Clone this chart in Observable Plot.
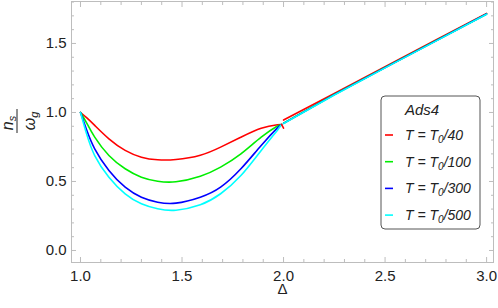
<!DOCTYPE html>
<html><head><meta charset="utf-8">
<script src="https://cdn.jsdelivr.net/npm/d3@7"></script>
<script src="https://cdn.jsdelivr.net/npm/@observablehq/plot@0.6"></script>
<style>body{margin:0;background:#fff}</style>
</head><body><div id="chart"></div>
<script>
// ---- data ----
const seriesKeys = ["T0/40", "T0/100", "T0/300", "T0/500"];
const seriesDenoms = ["40", "100", "300", "500"];
const seriesColors = ["#ff0000", "#00ee00", "#0000ff", "#00ffff"];

const deltaLow = [1.0, 1.03, 1.07, 1.14, 1.22, 1.30, 1.38, 1.47, 1.59, 1.69, 1.79, 1.89, 1.97, 1.99];
const redLow   = [1.0, 0.962, 0.906, 0.809, 0.725, 0.676, 0.657, 0.659, 0.690, 0.749, 0.821, 0.886, 0.911, 0.913];
const greenLow = [1.0, 0.925, 0.821, 0.688, 0.592, 0.531, 0.502, 0.498, 0.538, 0.604, 0.700, 0.821, 0.902, 0.913];
const blueLow  = [1.0, 0.875, 0.737, 0.580, 0.459, 0.386, 0.350, 0.343, 0.386, 0.459, 0.592, 0.761, 0.888, 0.913];
const cyanLow  = [1.0, 0.845, 0.688, 0.531, 0.411, 0.338, 0.302, 0.292, 0.331, 0.411, 0.543, 0.725, 0.872, 0.913];

const deltaHook = [1.99, 2.0];
const redHook   = [0.913, 0.886];

const deltaHigh = [2.0, 2.25, 2.5, 2.75, 3.0];
const redHigh   = [0.945, 1.138, 1.331, 1.525, 1.718];
const greenHigh = [0.922, 1.130, 1.326, 1.520, 1.714];
const blueHigh  = [0.921, 1.129, 1.325, 1.519, 1.713];
const cyanHigh  = [0.920, 1.127, 1.323, 1.517, 1.712];

const xMajor = [1.0, 1.5, 2.0, 2.5, 3.0];
const xMinor = [1.1, 1.2, 1.3, 1.4, 1.6, 1.7, 1.8, 1.9, 2.1, 2.2, 2.3, 2.4, 2.6, 2.7, 2.8, 2.9];
const yMajor = [0.0, 0.5, 1.0, 1.5];
const yMinor = [0.1, 0.2, 0.3, 0.4, 0.6, 0.7, 0.8, 0.9, 1.1, 1.2, 1.3, 1.4, 1.6, 1.7, 1.8];

// ---- build tables ----
const lowVals = [redLow, greenLow, blueLow, cyanLow];
const highVals = [redHigh, greenHigh, blueHigh, cyanHigh];
const lowRows = [], highRows = [], hookRows = [];
seriesKeys.forEach((k, i) => {
  deltaLow.forEach((d, j) => lowRows.push({delta: d, value: lowVals[i][j], series: k}));
  deltaHigh.forEach((d, j) => highRows.push({delta: d, value: highVals[i][j], series: k}));
});
deltaHook.forEach((d, j) => hookRows.push({delta: d, value: redHook[j], series: seriesKeys[0]}));

const frameColor = "#bdbdbd";
const textColor = "#222";
const font = "'Liberation Sans', Arial, sans-serif";

const chart = Plot.plot({
  width: 498,
  height: 308,
  marginLeft: 71,
  marginRight: 5,
  marginTop: 1,
  marginBottom: 46,
  style: {fontFamily: font, fontSize: "15px", background: "#fff", color: textColor},
  x: {domain: [0.9557, 3.034], label: null},
  y: {domain: [-0.087, 1.804], label: null},
  color: {domain: seriesKeys, range: seriesColors},
  marks: [
    Plot.frame({stroke: frameColor}),
    // inward ticks, all four sides
    Plot.axisX(xMajor, {anchor: "bottom", tickSize: 5, dy: -5, fill: "none", stroke: frameColor, label: null}),
    Plot.axisX(xMinor, {anchor: "bottom", tickSize: 3, dy: -3, fill: "none", stroke: frameColor, label: null}),
    Plot.axisX(xMajor, {anchor: "top", tickSize: 5, dy: 5, fill: "none", stroke: frameColor, label: null}),
    Plot.axisX(xMinor, {anchor: "top", tickSize: 3, dy: 3, fill: "none", stroke: frameColor, label: null}),
    Plot.axisY(yMajor, {anchor: "left", tickSize: 5, dx: 5, fill: "none", stroke: frameColor, label: null}),
    Plot.axisY(yMinor, {anchor: "left", tickSize: 3, dx: 3, fill: "none", stroke: frameColor, label: null}),
    Plot.axisY(yMajor, {anchor: "right", tickSize: 5, dx: -5, fill: "none", stroke: frameColor, label: null}),
    Plot.axisY(yMinor, {anchor: "right", tickSize: 3, dx: -3, fill: "none", stroke: frameColor, label: null}),
    // tick labels
    Plot.axisX(xMajor, {anchor: "bottom", tickSize: 0, tickPadding: 8, tickFormat: d => d.toFixed(1), fill: textColor, fontSize: 15, label: null}),
    Plot.axisY(yMajor, {anchor: "left", tickSize: 0, tickPadding: 5, tickFormat: d => d.toFixed(1), fill: textColor, fontSize: 15, label: null}),
    // axis title
    Plot.text(["Δ"], {frameAnchor: "bottom", dy: 27, lineAnchor: "middle", fill: textColor, fontSize: 15}),
    // curves
    Plot.line(lowRows, {x: "delta", y: "value", z: "series", stroke: "series", strokeWidth: 1.6, curve: "natural"}),
    Plot.line(hookRows, {x: "delta", y: "value", z: "series", stroke: "series", strokeWidth: 1.6}),
    Plot.line(highRows, {x: "delta", y: "value", z: "series", stroke: "series", strokeWidth: 1.6})
  ]
});
document.getElementById("chart").appendChild(chart);

// ---- y-axis fraction label (rotated) ----
const svg = d3.select(chart);
const yl = svg.append("g")
  .attr("transform", "translate(17,121) rotate(-90)")
  .attr("font-family", font).attr("font-style", "italic").attr("font-size", 16)
  .attr("fill", textColor).attr("text-anchor", "middle");
const num = yl.append("text").attr("x", -2).attr("y", -4);
num.append("tspan").text("n");
num.append("tspan").attr("font-size", 11).attr("dy", 3).text("s");
yl.append("line").attr("x1", -12).attr("x2", 12).attr("y1", 0).attr("y2", 0)
  .attr("stroke", textColor).attr("stroke-width", 1);
const den = yl.append("text").attr("x", 0).attr("y", 18);
den.append("tspan").text("ω");
den.append("tspan").attr("font-size", 11).attr("dy", 3).text("g");

// ---- legend ----
const lg = svg.append("g").attr("font-family", font).attr("font-size", 14)
  .attr("fill", textColor).attr("text-anchor", "start");
lg.append("rect").attr("x", 381).attr("y", 96).attr("width", 99).attr("height", 133).attr("rx", 4)
  .attr("fill", "#fff").attr("stroke", "#555");
lg.append("text").attr("x", 405).attr("y", 115).attr("font-style", "italic").attr("font-size", 15).text("Ads4");
seriesKeys.forEach((k, i) => {
  const y = 135 + i * 26.7;
  lg.append("line").attr("x1", 385).attr("x2", 393).attr("y1", y).attr("y2", y)
    .attr("stroke", seriesColors[i]).attr("stroke-width", 1.6);
  const t = lg.append("text").attr("x", 405).attr("y", y + 5).attr("font-style", "italic");
  t.append("tspan").text("T = T");
  t.append("tspan").attr("font-size", 10).attr("dy", 3).text("0");
  t.append("tspan").attr("dy", -3).text("/" + seriesDenoms[i]);
});
</script>
</body></html>
